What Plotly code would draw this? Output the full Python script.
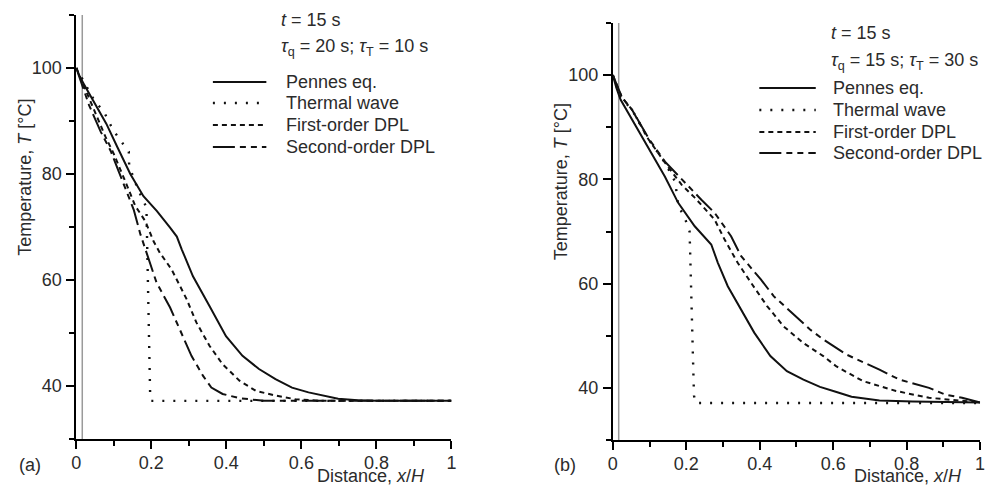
import plotly.graph_objects as go

# ---------------- data ----------------
series_names = ["Pennes eq.", "Thermal wave", "First-order DPL", "Second-order DPL"]

# panel (a): t = 15 s, tau_q = 20 s, tau_T = 10 s
xa_pennes = [0, 0.01, 0.02, 0.05, 0.08, 0.11, 0.144, 0.179, 0.215, 0.25, 0.268, 0.281, 0.311, 0.355,
             0.399, 0.443, 0.487, 0.531, 0.575, 0.619, 0.663, 0.698, 0.75, 0.8, 1.0]
ya_pennes = [100, 98.3, 97, 93.3, 89.5, 85, 80, 75.8, 73, 69.9, 68.2, 65.8, 60.7, 55.1,
             49.4, 45.7, 43.2, 41.3, 39.7, 38.8, 38.2, 37.6, 37.3, 37.2, 37.2]

xa_thermal = [0, 0.047, 0.074, 0.098, 0.113, 0.14, 0.141, 0.165, 0.187, 0.192, 0.197, 0.2, 1.0]
ya_thermal = [100, 94, 91.7, 88.3, 86.8, 84.2, 81.5, 77, 73.7, 55, 38, 37.2, 37.2]

xa_first = [0, 0.03, 0.061, 0.078, 0.1, 0.12, 0.14, 0.157, 0.184, 0.206, 0.223, 0.254, 0.267, 0.294,
            0.32, 0.355, 0.39, 0.435, 0.478, 0.531, 0.584, 0.65, 1.0]
ya_first = [100, 95, 90, 87, 83.8, 80.5, 77, 74, 71.1, 67.3, 65.1, 62, 60.1, 56.4,
            52, 47.6, 44.1, 41, 39.1, 38.2, 37.5, 37.2, 37.2]

xa_second = [0, 0.034, 0.065, 0.092, 0.113, 0.131, 0.153, 0.171, 0.197, 0.214, 0.25, 0.276, 0.307,
             0.338, 0.36, 0.39, 0.435, 0.5, 1.0]
ya_second = [100, 93, 88, 84.3, 80.5, 77.4, 73.3, 68.6, 63.3, 59.5, 54.8, 50.7, 45.7,
             41.9, 39.7, 38.5, 37.7, 37.2, 37.2]

# panel (b): t = 15 s, tau_q = 15 s, tau_T = 30 s
xb_pennes = [0, 0.01, 0.021, 0.052, 0.079, 0.106, 0.142, 0.178, 0.223, 0.268, 0.286, 0.313, 0.349,
             0.385, 0.429, 0.474, 0.519, 0.564, 0.609, 0.65, 0.726, 0.816, 1.0]
yb_pennes = [100, 97.5, 95.3, 91.5, 88.3, 84.8, 80.5, 75.5, 71, 67.5, 64, 59.5, 55,
             50.6, 46.1, 43.2, 41.6, 40.2, 39.2, 38.3, 37.6, 37.4, 37.2]

xb_thermal = [0, 0.021, 0.052, 0.097, 0.142, 0.17, 0.178, 0.196, 0.209, 0.215, 0.221, 0.226, 1.0]
yb_thermal = [100, 95.7, 93.4, 87.7, 83.2, 79.5, 75, 72.6, 70, 55, 38.5, 37.1, 37.1]

xb_first = [0, 0.025, 0.052, 0.097, 0.142, 0.169, 0.187, 0.223, 0.277, 0.304, 0.34, 0.376, 0.42,
            0.465, 0.519, 0.573, 0.609, 0.681, 0.771, 0.861, 0.951, 1.0]
yb_first = [100, 95.7, 93.4, 87.7, 83.2, 80.6, 79, 76.5, 72.3, 68.5, 64, 60.2, 55.7,
            51.8, 48.6, 46.1, 44.1, 41.3, 39.4, 38.1, 37.6, 37.2]

xb_second = [0, 0.025, 0.052, 0.097, 0.142, 0.205, 0.241, 0.277, 0.322, 0.349, 0.403, 0.438, 0.501,
             0.537, 0.573, 0.636, 0.726, 0.78, 0.861, 0.906, 0.951, 1.0]
yb_second = [100, 95.7, 93.4, 87.9, 83.4, 78.7, 76.1, 73.6, 69.1, 65.3, 60.8, 57.6, 53.6,
             51.2, 49.3, 46.4, 43.5, 41.6, 40, 38.7, 38.1, 37.2]

ref_line_x = 0.016          # thin grey reference line near x = 0
y_range = [30, 110]
x_range = [0, 1]

panel_a_text = ["<i>t</i> = 15 s", "<i>τ</i><sub>q</sub> = 20 s; <i>τ</i><sub>T</sub> = 10 s"]
panel_b_text = ["<i>t</i> = 15 s", "<i>τ</i><sub>q</sub> = 15 s; <i>τ</i><sub>T</sub> = 30 s"]
panel_labels = ["(a)", "(b)"]
y_title = "Temperature, <i>T</i> [°C]"
x_title = "Distance, <i>x</i>/<i>H</i>"

# ---------------- style ----------------
W, H = 994, 486
FONT = "Liberation Sans, Arial, Helvetica, sans-serif"
TXT = "#2b2b2b"
LINE = "#111111"
dashes = ["solid", "2px,9px", "5px,4px", "22px,5px,6px,5px,6px,5px"]
widths = [2, 2.4, 2, 2]


def px(x):
    return x / W


def py(y):
    return 1 - y / H


fig = go.Figure()

panels = [
    ("x", "y", [(xa_pennes, ya_pennes), (xa_thermal, ya_thermal), (xa_first, ya_first), (xa_second, ya_second)]),
    ("x2", "y2", [(xb_pennes, yb_pennes), (xb_thermal, yb_thermal), (xb_first, yb_first), (xb_second, yb_second)]),
]

for xa, ya, series in panels:
    fig.add_trace(go.Scatter(x=[ref_line_x, ref_line_x], y=y_range, mode="lines",
                             line=dict(color="#9a9a9a", width=1.5), xaxis=xa, yaxis=ya,
                             showlegend=False, hoverinfo="skip"))
    for i, (xs, ys) in enumerate(series):
        fig.add_trace(go.Scatter(x=xs, y=ys, mode="lines", name=series_names[i],
                                 line=dict(color=LINE, width=widths[i], dash=dashes[i]),
                                 xaxis=xa, yaxis=ya, showlegend=False))

axis_common = dict(showgrid=False, zeroline=False, showline=True, linecolor="black", linewidth=2,
                   ticks="outside", ticklen=8, tickwidth=2, tickcolor="black",
                   tickfont=dict(family=FONT, size=18, color=TXT))

xaxis_common = dict(axis_common, range=x_range, tick0=0, dtick=0.2, ticklabelstandoff=-2,
                    minor=dict(dtick=0.1, tick0=0, ticks="outside", ticklen=5, tickwidth=2, tickcolor="black"))
yaxis_common = dict(axis_common, range=y_range, tick0=0, dtick=20, ticklabelstandoff=1,
                    minor=dict(dtick=10, tick0=0, ticks="outside", ticklen=5, tickwidth=2, tickcolor="black"))

fig.update_layout(
    width=W, height=H, margin=dict(l=0, r=0, t=0, b=0),
    paper_bgcolor="white", plot_bgcolor="white", showlegend=False,
    font=dict(family=FONT, size=18, color=TXT),
    xaxis=dict(xaxis_common, domain=[px(72), px(451)], anchor="y"),
    yaxis=dict(yaxis_common, domain=[py(439), py(15)], anchor="x"),
    xaxis2=dict(xaxis_common, domain=[px(614), px(985)], anchor="y2"),
    yaxis2=dict(yaxis_common, domain=[py(440), py(23)], anchor="x2"),
)

ann = []
shapes = []


def text(x, y, s, xanchor="left", angle=0):
    ann.append(dict(x=px(x), y=py(y), xref="paper", yref="paper", text=s, showarrow=False,
                    xanchor=xanchor, yanchor="middle", textangle=angle,
                    font=dict(family=FONT, size=18, color=TXT)))


# panel (a) layout positions
text(277, 20, panel_a_text[0])
text(277, 47, panel_a_text[1])
text(20, 177, y_title, "center", -90)
text(370, 476, x_title, "center")
text(25, 465, panel_labels[0], "center")
leg_a = dict(x0=210, x1=264, xt=282, ys=[82, 103, 125, 147])

# panel (b) layout positions
text(832, 33, panel_b_text[0])
text(832, 61, panel_b_text[1])
text(562, 182, y_title, "center", -90)
text(912, 476, x_title, "center")
text(566, 465, panel_labels[1], "center")
leg_b = dict(x0=762, x1=819, xt=834, ys=[88, 110, 132, 153])

for leg in (leg_a, leg_b):
    for i, yy in enumerate(leg["ys"]):
        shapes.append(dict(type="line", xref="paper", yref="paper",
                           x0=px(leg["x0"]), x1=px(leg["x1"]), y0=py(yy), y1=py(yy),
                           line=dict(color=LINE, width=widths[i], dash=dashes[i])))
        text(leg["xt"], yy, series_names[i])

fig.update_layout(annotations=ann, shapes=shapes)
fig.write_html("out.html",
               config={"displayModeBar": False},
               post_script="document.body.style.margin='0';document.body.style.padding='0';"
                           "document.documentElement.style.overflow='hidden';")
